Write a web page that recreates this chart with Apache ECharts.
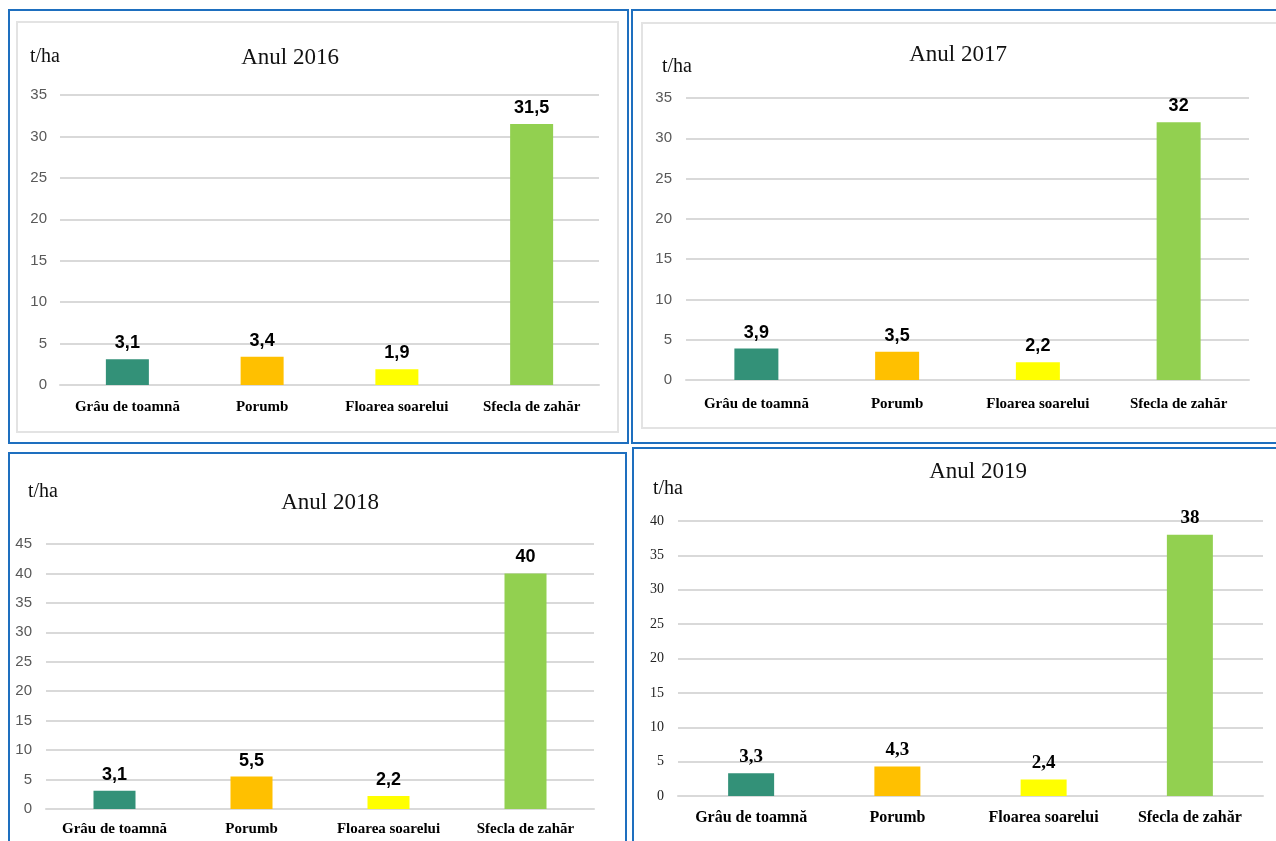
<!DOCTYPE html>
<html>
<head>
<meta charset="utf-8">
<script src="https://cdn.jsdelivr.net/npm/echarts@6/dist/echarts.min.js"></script>
<style>
  html, body { margin: 0; padding: 0; background: #fff; }
  #main { width: 1276px; height: 841px; }
</style>
</head>
<body>
<div id="main"></div>
<script>
var categories = ['Grâu de toamnă', 'Porumb', 'Floarea soarelui', 'Sfecla de zahăr'];
var years = ['Anul 2016', 'Anul 2017', 'Anul 2018', 'Anul 2019'];
var values2016 = [3.1, 3.4, 1.9, 31.5];
var values2017 = [3.9, 3.5, 2.2, 32];
var values2018 = [3.1, 5.5, 2.2, 40];
var values2019 = [3.3, 4.3, 2.4, 38];
var yMax = [35, 35, 45, 40];
var barColors = ['#339178', '#FFC000', '#FFFF00', '#92D050'];
var unit = 't/ha';

var allValues = [values2016, values2017, values2018, values2019];

// panel layout (pixels)
var panels = [
    {grid: {left: 60, top: 95, width: 539, height: 290}, title: [290, 58], unit: [30, 57],
     box: [9, 10, 619, 433], inner: [17, 22, 601, 410], yMargin: 13, xMargin: 15, barW: 43, serif: false},
    {grid: {left: 686, top: 98, width: 563, height: 282}, title: [958, 55], unit: [662, 67],
     box: [632, 10, 660, 433], inner: [642, 23, 640, 405], yMargin: 14, xMargin: 17, barW: 44, serif: false},
    {grid: {left: 46, top: 544, width: 548, height: 265}, title: [330, 503], unit: [28, 492],
     box: [9, 453, 617, 400], inner: null, yMargin: 14, xMargin: 13, barW: 42, serif: false},
    {grid: {left: 678, top: 521, width: 585, height: 275}, title: [978, 472], unit: [653, 489],
     box: [633, 448, 660, 400], inner: null, yMargin: 14, xMargin: 14, barW: 46, serif: true}
];

var sans = '"Liberation Sans", Arial, sans-serif';
var serif = '"Liberation Serif", "Times New Roman", serif';

function fmt(v) {
    return String(v).replace('.', ',');
}

var grids = [], xAxes = [], yAxes = [], series = [], graphics = [];

panels.forEach(function (p, i) {
    grids.push(p.grid);
    xAxes.push({
        type: 'category',
        gridIndex: i,
        data: categories,
        axisTick: {show: false},
        axisLine: {show: true, lineStyle: {color: '#D9D9D9', width: 2}},
        axisLabel: {
            interval: 0,
            margin: p.xMargin,
            color: '#000',
            fontFamily: serif,
            fontWeight: 'bold',
            fontSize: p.serif ? 16 : 15
        }
    });
    yAxes.push({
        type: 'value',
        gridIndex: i,
        min: 0,
        max: yMax[i],
        interval: 5,
        axisLine: {show: false},
        axisTick: {show: false},
        splitLine: {lineStyle: {color: '#D9D9D9', width: 2}},
        axisLabel: {
            margin: p.yMargin,
            color: p.serif ? '#222' : '#595959',
            fontFamily: p.serif ? serif : sans,
            fontSize: p.serif ? 14 : 15
        }
    });
    series.push({
        type: 'bar',
        xAxisIndex: i,
        yAxisIndex: i,
        barWidth: p.barW,
        data: allValues[i].map(function (v, k) {
            return {value: v, itemStyle: {color: barColors[k]}};
        }),
        label: {
            show: true,
            position: 'top',
            distance: 7,
            color: '#000',
            fontWeight: 'bold',
            fontFamily: p.serif ? serif : sans,
            fontSize: p.serif ? 19 : 18,
            formatter: function (d) { return fmt(d.value); }
        }
    });
    graphics.push({
        type: 'rect',
        shape: {x: p.box[0], y: p.box[1], width: p.box[2], height: p.box[3]},
        style: {fill: null, stroke: '#1E6FBF', lineWidth: 2},
        z: 1
    });
    if (p.inner) {
        graphics.push({
            type: 'rect',
            shape: {x: p.inner[0], y: p.inner[1], width: p.inner[2], height: p.inner[3]},
            style: {fill: null, stroke: '#E3E3E3', lineWidth: 2},
            z: 1
        });
    }
    graphics.push({
        type: 'text',
        x: p.title[0], y: p.title[1],
        style: {text: years[i], fill: '#111', font: '23px ' + serif,
                textAlign: 'center', textVerticalAlign: 'middle'}
    });
    graphics.push({
        type: 'text',
        x: p.unit[0], y: p.unit[1],
        style: {text: unit, fill: '#111', font: '20px ' + serif,
                textAlign: 'left', textVerticalAlign: 'middle'}
    });
});

var myChart = echarts.init(document.getElementById('main'));
var option = {
    backgroundColor: '#fff',
    animation: false,
    grid: grids,
    xAxis: xAxes,
    yAxis: yAxes,
    series: series,
    graphic: graphics
};
myChart.setOption(option);
</script>
</body>
</html>
